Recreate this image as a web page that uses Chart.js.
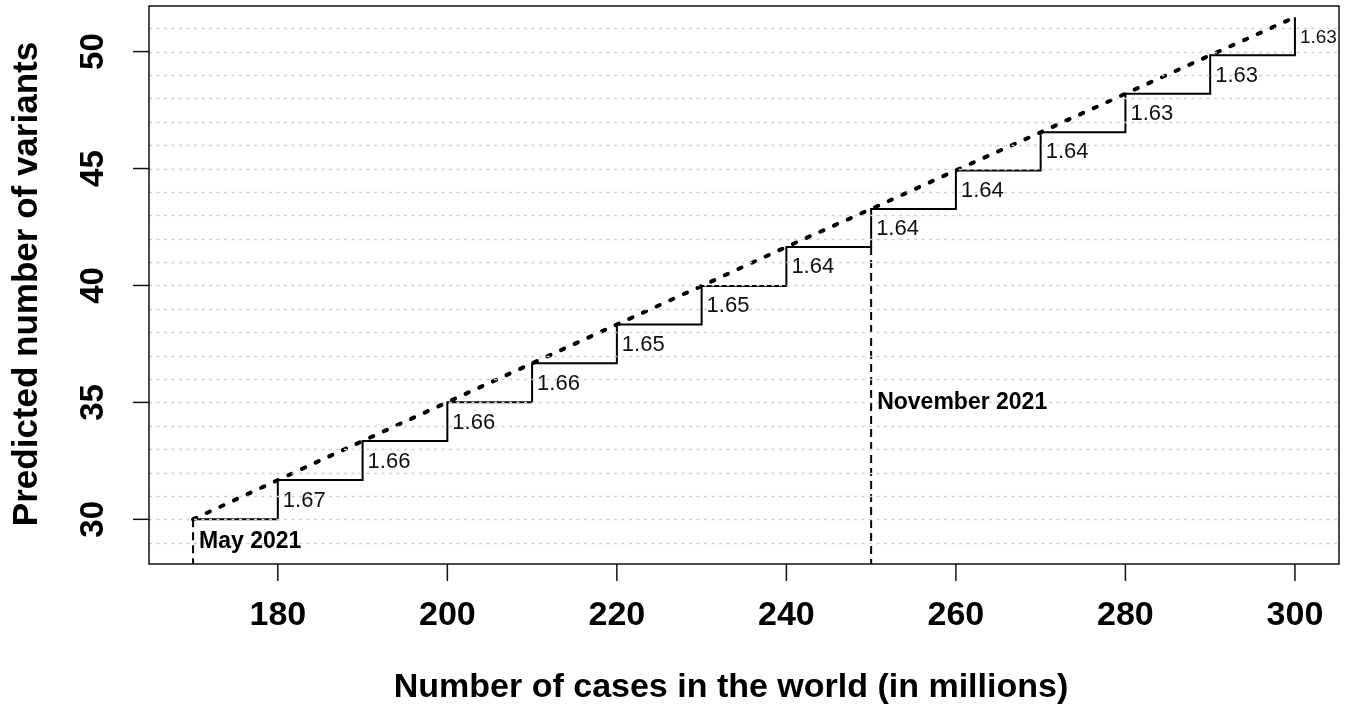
<!DOCTYPE html>
<html>
<head>
<meta charset="utf-8">
<script src="https://cdn.jsdelivr.net/npm/chart.js@4"></script>
<style>
  html, body { margin: 0; padding: 0; background: #fff; }
  #wrap { width: 1349px; height: 706px; }
</style>
</head>
<body>
<div id="wrap"><canvas id="variantsChart" width="1349" height="706"></canvas></div>
<script>
// cases in the world (millions) and predicted number of variants
const cases = [170, 180, 190, 200, 210, 220, 230, 240, 250, 260, 270, 280, 290, 300];
const predicted = [30.00, 31.68, 33.35, 35.01, 36.67, 38.33, 39.98, 41.65, 43.27, 44.92, 46.55, 48.20, 49.84, 51.47];
// text written next to each step (from 180 to 300)
const stepLabels = ['1.67', '1.66', '1.66', '1.66', '1.65', '1.65', '1.64', '1.64', '1.64', '1.64', '1.63', '1.63', '1.63'];
const xTicks = [180, 200, 220, 240, 260, 280, 300];
const yTicks = [30, 35, 40, 45, 50];
const yGrid = [29, 30, 31, 32, 33, 34, 35, 36, 37, 38, 39, 40, 41, 42, 43, 44, 45, 46, 47, 48, 49, 50, 51];
const markers = [
    { x: 170, y: 30.00, label: 'May 2021', labelY: 29.04 },
    { x: 250, y: 41.65, label: 'November 2021', labelY: 35 },
];

const X_MIN = 164.8, X_MAX = 305.2;
const Y_MIN = 28.09, Y_MAX = 51.95;

const FONT = 'Arial, "Liberation Sans", Helvetica, sans-serif';

const points = cases.map((c, i) => ({ x: c, y: predicted[i] }));

const decorations = {
    id: 'decorations',
    beforeDraw(chart) {
        const { ctx } = chart;
        ctx.save();
        ctx.fillStyle = '#fff';
        ctx.fillRect(0, 0, chart.width, chart.height);
        ctx.restore();
    },
    afterDatasetsDraw(chart) {
        const { ctx, chartArea: a } = chart;
        const xs = chart.scales.x;
        const ys = chart.scales.y;
        ctx.save();

        // dotted grid, drawn over the lines like abline() would
        ctx.strokeStyle = '#cfcfcf';
        ctx.lineWidth = 1.5;
        ctx.setLineDash([3, 4.5]);
        yGrid.forEach((v) => {
            const py = Math.round(ys.getPixelForValue(v)) + 0.5;
            ctx.beginPath();
            ctx.moveTo(a.left, py);
            ctx.lineTo(a.right, py);
            ctx.stroke();
        });
        ctx.setLineDash([]);

        // box
        ctx.strokeStyle = '#111';
        ctx.lineWidth = 1.5;
        ctx.strokeRect(a.left, a.top, a.right - a.left, a.bottom - a.top);

        // ticks + labels
        ctx.fillStyle = '#000';
        ctx.font = 'bold 34px ' + FONT;
        ctx.textAlign = 'center';
        ctx.textBaseline = 'middle';
        xTicks.forEach((v) => {
            const px = xs.getPixelForValue(v);
            ctx.beginPath();
            ctx.moveTo(px, a.bottom);
            ctx.lineTo(px, a.bottom + 17);
            ctx.stroke();
            ctx.fillText(String(v), px, 616);
        });
        ctx.font = 'bold 33px ' + FONT;
        yTicks.forEach((v) => {
            const py = ys.getPixelForValue(v);
            ctx.beginPath();
            ctx.moveTo(a.left, py);
            ctx.lineTo(a.left - 16, py);
            ctx.stroke();
            ctx.save();
            ctx.translate(94, py);
            ctx.rotate(-Math.PI / 2);
            ctx.fillText(String(v), 0, 0);
            ctx.restore();
        });

        // axis titles
        ctx.font = 'bold 34px ' + FONT;
        ctx.fillText('Number of cases in the world (in millions)', 731, 688);
        ctx.font = 'bold 35px ' + FONT;
        ctx.save();
        ctx.translate(27, 284);
        ctx.rotate(-Math.PI / 2);
        ctx.fillText('Predicted number of variants', 0, 0);
        ctx.restore();

        // step labels
        ctx.textAlign = 'left';
        ctx.fillStyle = '#111';
        stepLabels.forEach((t, i) => {
            const last = i === stepLabels.length - 1;
            ctx.font = (last ? '19px ' : '22px ') + FONT;
            const px = xs.getPixelForValue(cases[i + 1]);
            const py = (ys.getPixelForValue(predicted[i]) + ys.getPixelForValue(predicted[i + 1])) / 2;
            ctx.fillText(t, px + 5, py + 1);
        });

        // month markers
        ctx.font = 'bold 23px ' + FONT;
        ctx.fillStyle = '#000';
        markers.forEach((m) => {
            const px = xs.getPixelForValue(m.x);
            ctx.fillText(m.label, px + 6, ys.getPixelForValue(m.labelY));
        });

        ctx.restore();
    },
};

new Chart(document.getElementById('variantsChart'), {
    type: 'line',
    data: {
        datasets: [
            {
                label: 'trend',
                data: points,
                borderColor: '#000',
                borderWidth: 4,
                borderDash: [3.5, 11.5],
                borderCapStyle: 'round',
                pointRadius: 0,
                tension: 0,
            },
            {
                label: 'steps',
                data: points,
                stepped: true,
                borderColor: '#000',
                borderWidth: 2,
                pointRadius: 0,
            },
            {
                label: 'may',
                data: [{ x: markers[0].x, y: markers[0].y }, { x: markers[0].x, y: Y_MIN }],
                borderColor: '#000',
                borderWidth: 2,
                borderDash: [8, 5],
                pointRadius: 0,
            },
            {
                label: 'november',
                data: [{ x: markers[1].x, y: markers[1].y }, { x: markers[1].x, y: Y_MIN }],
                borderColor: '#000',
                borderWidth: 2,
                borderDash: [8, 5],
                pointRadius: 0,
            },
        ],
    },
    options: {
        responsive: false,
        animation: false,
        devicePixelRatio: 1,
        layout: { padding: { left: 0, right: 10, top: 6, bottom: 0 } },
        plugins: { legend: { display: false }, tooltip: { enabled: false } },
        scales: {
            x: {
                type: 'linear',
                min: X_MIN,
                max: X_MAX,
                grid: { display: false },
                border: { display: false },
                ticks: { display: false },
                afterFit: (s) => { s.height = 142; },
            },
            y: {
                min: Y_MIN,
                max: Y_MAX,
                grid: { display: false },
                border: { display: false },
                ticks: { display: false },
                afterFit: (s) => { s.width = 149; },
            },
        },
    },
    plugins: [decorations],
});
</script>
</body>
</html>
